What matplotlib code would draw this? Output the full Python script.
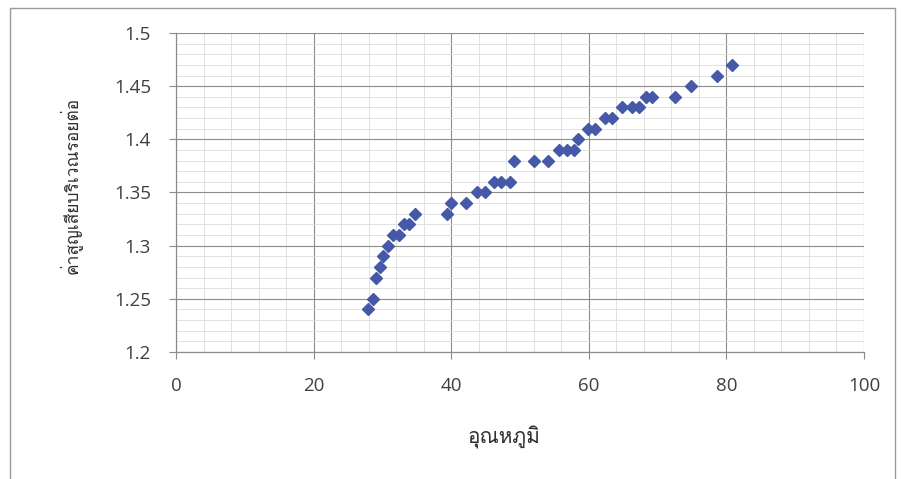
import matplotlib
matplotlib.use("Agg")
import matplotlib.pyplot as plt
from matplotlib import font_manager, ft2font
from matplotlib.ticker import MultipleLocator
from matplotlib.patches import Rectangle

# ---- data ----
temperature = [27.9, 28.6, 29.0, 29.6, 30.1, 30.8, 31.6, 32.4, 33.2, 33.9, 34.7,
               39.4, 40.0, 42.2, 43.7, 44.9, 46.2, 47.3, 48.6, 49.1,
               52.1, 54.1, 55.6, 56.8, 57.9, 58.5, 59.9, 60.9, 62.4, 63.4,
               64.8, 66.3, 67.3, 68.3, 69.2, 72.6, 74.8, 78.7, 80.8]
loss = [1.24, 1.25, 1.27, 1.28, 1.29, 1.30, 1.31, 1.31, 1.32, 1.32, 1.33,
        1.33, 1.34, 1.34, 1.35, 1.35, 1.36, 1.36, 1.36, 1.38,
        1.38, 1.38, 1.39, 1.39, 1.39, 1.40, 1.41, 1.41, 1.42, 1.42,
        1.43, 1.43, 1.43, 1.44, 1.44, 1.44, 1.45, 1.46, 1.47]
x_ticks = [0, 20, 40, 60, 80, 100]
y_ticks = [1.2, 1.25, 1.3, 1.35, 1.4, 1.45, 1.5]
y_tick_labels = ["1.2", "1.25", "1.3", "1.35", "1.4", "1.45", "1.5"]
x_label = "อุณหภูมิ"
y_label = "ค่าสูญเสียบริเวณรอยต่อ"


def find_thai_font():
    preferred = []
    others = []
    for f in font_manager.fontManager.ttflist:
        try:
            cm = ft2font.FT2Font(f.fname).get_charmap()
        except Exception:
            continue
        if 0x0E01 in cm and 0x0E38 in cm:
            if "sans" in f.name.lower() or "loma" in f.name.lower():
                preferred.append(f.name)
            else:
                others.append(f.name)
    cands = preferred + others
    return cands[0] if cands else None


thai = find_thai_font()
thai_family = [thai, "DejaVu Sans"] if thai else ["DejaVu Sans"]
tick_font = "Open Sans"

fig = plt.figure(figsize=(9.01, 4.79), dpi=100)
fig.patch.set_facecolor("white")
# outer chart frame
fig.patches.append(Rectangle((10 / 901, -0.02), 885 / 901, 1 - 8 / 479 + 0.02,
                             transform=fig.transFigure, fill=False,
                             edgecolor="#9a9a9a", linewidth=1.0))

ax = fig.add_axes([176 / 901, 1 - 352 / 479, (864 - 176) / 901, (352 - 33) / 479])
ax.set_xlim(0, 100)
ax.set_ylim(1.2, 1.5)
ax.set_xticks(x_ticks)
ax.set_yticks(y_ticks)
ax.set_yticklabels(y_tick_labels)
ax.xaxis.set_minor_locator(MultipleLocator(4))
ax.yaxis.set_minor_locator(MultipleLocator(0.01))

ax.grid(which="major", color="#8c8c8c", linewidth=0.8)
ax.grid(which="minor", color="#dcdcdc", linewidth=0.6)
ax.set_axisbelow(True)

for s in ["top", "right"]:
    ax.spines[s].set_visible(False)
for s in ["left", "bottom"]:
    ax.spines[s].set_color("#8c8c8c")
    ax.spines[s].set_linewidth(0.9)

ax.tick_params(which="major", length=5, color="#8c8c8c", labelsize=13.5,
               labelcolor="#404040")
ax.tick_params(which="minor", length=0)
ax.tick_params(axis="x", pad=13)
ax.tick_params(axis="y", pad=13)
for lab in ax.get_xticklabels() + ax.get_yticklabels():
    lab.set_fontfamily(tick_font)

ax.plot(temperature, loss, linestyle="none", marker="D", markersize=6.3,
        color="#4658a8", markeredgecolor="#4658a8", clip_on=False)

fig.text(504 / 901, 1 - 437 / 479, x_label, ha="center", va="center",
         fontsize=15, color="#303030", family=thai_family)
fig.text(71 / 901, 1 - 185 / 479, y_label, ha="center", va="center",
         rotation=90, fontsize=12.5, color="#303030", family=thai_family)

fig.savefig("out.png", dpi=100)
